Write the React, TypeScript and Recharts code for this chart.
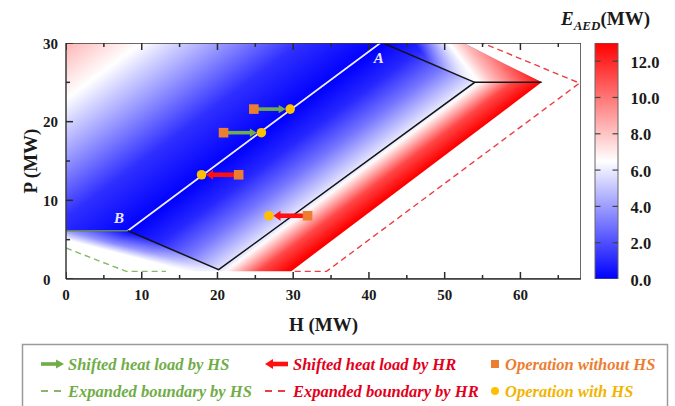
import React from 'react';
import { ComposedChart, Scatter, XAxis, YAxis, BarChart, Bar } from 'recharts';

const SERIF = '"Liberation Serif", "Times New Roman", serif';

// ---------- axis ticks ----------
const hTicks = [0, 5, 10, 15, 20, 25, 30, 35, 40, 45, 50, 55, 60, 65];
const pTicks = [0, 5, 10, 15, 20, 25, 30];
const eTicks = [0, 2, 4, 6, 8, 10, 12];
const hDomain = [0, 68];
const pDomain = [0, 30];
const eDomain = [0, 13];

// ---------- colour field (E_AED) ----------
const fieldMain = [
  { h: 0, p: 30 }, { h: 52.5, p: 30 }, { h: 62.8, p: 25 }, { h: 29.75, p: 1 }, { h: 0, p: 1 },
];
// E value profile across the field, sampled along P = 25 (iso-lines parallel to line A-B)
const mainProfileH = [-7.1, 3, 14, 24, 34.9, 41, 47, 54, 54.6, 59, 62.8];
const mainProfileE = [8.4, 6.5, 3.8, 1.2, 0, 1.0, 3.0, 6.0, 6.6, 11.2, 13];

const fieldTopRight = [
  { h: 41.85, p: 30 }, { h: 52.5, p: 30 }, { h: 62.8, p: 25 }, { h: 53.96, p: 25 },
];
const topRightIso = [{ h: 51, p: 30 }, { h: 55, p: 25 }];
const topRightProfile = [
  { h: 46, p: 30, e: 6.5, a: 0 },
  { h: 50.5, p: 30, e: 6.5, a: 1 },
  { h: 52.5, p: 30, e: 8.2, a: 1 },
  { h: 62.8, p: 25, e: 12.6, a: 1 },
];

const fieldBottom = [
  { h: 0, p: 6.14 }, { h: 8.17, p: 6.14 }, { h: 20.15, p: 1.18 }, { h: 20.15, p: 0.5 }, { h: 0, p: 0.5 },
];
const bottomIso = [{ h: 0, p: 5.5 }, { h: 10, p: 3 }];
const bottomProfile = [
  { h: 8.17, p: 6.14, a: 0 },
  { h: 0, p: 6.1, a: 0.55 },
  { h: 0, p: 5.0, a: 1 },
];

// ---------- boundaries ----------
const lineAB = [{ h: 8.17, p: 6.14 }, { h: 41.5, p: 30 }];
const blackLower = [{ h: 8.17, p: 6.14 }, { h: 20.15, p: 1.18 }, { h: 53.96, p: 25 }, { h: 62.8, p: 25 }];
const blackUpper = [{ h: 41.85, p: 30 }, { h: 53.96, p: 25 }];
const greenSolid = [{ h: 0, p: 6.14 }, { h: 8.17, p: 6.14 }];
const expandedHS = [{ h: 0, p: 3.94 }, { h: 7.95, p: 0.97 }, { h: 13.2, p: 0.97 }];
const expandedHR = [{ h: 30.2, p: 0.97 }, { h: 34.4, p: 0.97 }, { h: 67.8, p: 24.9 }, { h: 55, p: 30 }];
const frameBox = [{ h: 0, p: 0 }, { h: 68, p: 0 }, { h: 68, p: 30 }, { h: 0, p: 30 }, { h: 0, p: 0 }];

// ---------- operation points ----------
const opWithout = [
  { h: 24.8, p: 21.6 }, { h: 20.8, p: 18.6 }, { h: 22.8, p: 13.25 }, { h: 31.9, p: 8.04 },
];
const opWith = [
  { h: 29.6, p: 21.6 }, { h: 25.8, p: 18.6 }, { h: 17.9, p: 13.25 }, { h: 26.8, p: 8.04 },
];
const shiftedByHS = [0, 1];
const shiftedByHR = [2, 3];
const pointLabels = [{ h: 7.0, p: 7.8, t: 'B' }, { h: 41.3, p: 28.1, t: 'A' }];

const cbData = [{ name: 'E', v: 13 }];

// tick-mark anchors (drawn inside the frame)
const bottomMarks = hTicks.map((h) => ({ h, p: pDomain[0], side: 'bottom', major: h % 10 === 0 }));
const topMarks = hTicks.map((h) => ({ h, p: pDomain[1], side: 'top', major: h % 10 === 0 }));
const leftMarks = pTicks.map((p) => ({ h: hDomain[0], p, side: 'left', major: p % 10 === 0 }));

// ---------- helpers ----------
function eColor(e: number) {
  const c = (v: number) => Math.round(Math.max(0, Math.min(255, v)));
  if (e <= 6.5) {
    const t = e / 6.5;
    return `rgb(${c(255 * t)},${c(255 * t)},255)`;
  }
  const t = (e - 6.5) / 6.5;
  return `rgb(255,${c(255 * (1 - t))},${c(255 * (1 - t))})`;
}

type Pt = { h: number; p: number };
function makeMapper(data: Pt[], pts: { x: number; y: number }[]) {
  let i1 = -1, j1 = -1;
  for (let i = 1; i < data.length; i++) {
    if (i1 < 0 && Math.abs(data[i].h - data[0].h) > 1e-6) i1 = i;
    if (j1 < 0 && Math.abs(data[i].p - data[0].p) > 1e-6) j1 = i;
  }
  const ax = (pts[i1].x - pts[0].x) / (data[i1].h - data[0].h);
  const bx = pts[0].x - ax * data[0].h;
  const ay = (pts[j1].y - pts[0].y) / (data[j1].p - data[0].p);
  const by = pts[0].y - ay * data[0].p;
  return (h: number, p: number) => ({ x: ax * h + bx, y: ay * p + by });
}

function gradientFrame(m: (h: number, p: number) => { x: number; y: number }, iso: Pt[], refs: Pt[]) {
  const a = m(iso[0].h, iso[0].p);
  const b = m(iso[1].h, iso[1].p);
  let vx = b.x - a.x, vy = b.y - a.y;
  const L = Math.hypot(vx, vy);
  vx /= L; vy /= L;
  let nx = -vy, ny = vx;
  const S = m(refs[0].h, refs[0].p);
  const E = m(refs[refs.length - 1].h, refs[refs.length - 1].p);
  let len = (E.x - S.x) * nx + (E.y - S.y) * ny;
  if (len < 0) { nx = -nx; ny = -ny; len = -len; }
  const offs = refs.map((r) => {
    const q = m(r.h, r.p);
    return ((q.x - S.x) * nx + (q.y - S.y) * ny) / len;
  });
  return { x1: S.x, y1: S.y, x2: S.x + nx * len, y2: S.y + ny * len, offs };
}

const polyStr = (pts: { x: number; y: number }[]) => pts.map((q) => `${q.x},${q.y}`).join(' ');

const renderMainField = (lp: any) => {
  const pts = lp.points;
  if (!pts || pts.length < 3) return null;
  const m = makeMapper(fieldMain, pts);
  const refs = mainProfileH.map((h) => ({ h, p: 25 }));
  const g = gradientFrame(m, lineAB, refs);
  return (
    <g>
      <defs>
        <linearGradient id="gMain" gradientUnits="userSpaceOnUse" x1={g.x1} y1={g.y1} x2={g.x2} y2={g.y2}>
          {mainProfileE.map((e, i) => (
            <stop key={i} offset={Math.max(0, Math.min(1, g.offs[i]))} stopColor={eColor(e)} />
          ))}
        </linearGradient>
      </defs>
      <polygon points={polyStr(pts)} fill="url(#gMain)" stroke="none" />
    </g>
  );
};

const renderTopRight = (lp: any) => {
  const pts = lp.points;
  if (!pts || pts.length < 3) return null;
  const m = makeMapper(fieldTopRight, pts);
  const g = gradientFrame(m, topRightIso, topRightProfile);
  return (
    <g>
      <defs>
        <linearGradient id="gTR" gradientUnits="userSpaceOnUse" x1={g.x1} y1={g.y1} x2={g.x2} y2={g.y2}>
          {topRightProfile.map((r, i) => (
            <stop key={i} offset={Math.max(0, Math.min(1, g.offs[i]))} stopColor={eColor(r.e)} stopOpacity={r.a} />
          ))}
        </linearGradient>
      </defs>
      <polygon points={polyStr(pts)} fill="url(#gTR)" stroke="none" />
    </g>
  );
};

const renderBottom = (lp: any) => {
  const pts = lp.points;
  if (!pts || pts.length < 3) return null;
  const m = makeMapper(fieldBottom, pts);
  const g = gradientFrame(m, bottomIso, bottomProfile);
  return (
    <g>
      <defs>
        <linearGradient id="gBL" gradientUnits="userSpaceOnUse" x1={g.x1} y1={g.y1} x2={g.x2} y2={g.y2}>
          {bottomProfile.map((r, i) => (
            <stop key={i} offset={Math.max(0, Math.min(1, g.offs[i]))} stopColor="#ffffff" stopOpacity={r.a} />
          ))}
        </linearGradient>
      </defs>
      <polygon points={polyStr(pts)} fill="url(#gBL)" stroke="none" />
    </g>
  );
};

const arrowLine = (color: string, w: number, headL: number, headW: number, gap: number) => (lp: any) => {
  const pts = lp.points;
  if (!pts || pts.length < 2) return null;
  const a = pts[0], b = pts[1];
  const dx = b.x - a.x, dy = b.y - a.y;
  const L = Math.hypot(dx, dy);
  const ux = dx / L, uy = dy / L;
  const tip = { x: b.x - ux * gap, y: b.y - uy * gap };
  const base = { x: tip.x - ux * headL, y: tip.y - uy * headL };
  const px = -uy, py = ux;
  return (
    <g>
      <line x1={a.x} y1={a.y} x2={base.x + ux} y2={base.y + uy} stroke={color} strokeWidth={w} />
      <polygon
        points={`${tip.x},${tip.y} ${base.x + px * headW},${base.y + py * headW} ${base.x - px * headW},${base.y - py * headW}`}
        fill={color}
      />
    </g>
  );
};

const noShape = () => <g />;

const TICK_COLOR = '#2a2a2a';

const tickMarkShape = (s: any) => {
  const d = s.payload;
  const len = d.major ? 7 : 4;
  if (d.side === 'bottom') return <line x1={s.cx} x2={s.cx} y1={s.cy} y2={s.cy - len} stroke={TICK_COLOR} strokeWidth={1.5} />;
  if (d.side === 'top') return <line x1={s.cx} x2={s.cx} y1={s.cy} y2={s.cy + len} stroke={TICK_COLOR} strokeWidth={1.5} />;
  return <line x1={s.cx} x2={s.cx + len} y1={s.cy} y2={s.cy} stroke={TICK_COLOR} strokeWidth={1.5} />;
};

const XTick = (props: any) => {
  const { x, y, payload } = props;
  const v = payload.value;
  if (v % 10 !== 0) return <g />;
  return (
    <text x={x} y={y + 21} textAnchor="middle" fontFamily={SERIF} fontWeight="bold" fontSize={15} fill="#1a1a1a">
      {v}
    </text>
  );
};

const YTick = (props: any) => {
  const { x, y, payload } = props;
  const v = payload.value;
  if (v % 10 !== 0) return <g />;
  return (
    <text x={x - 23} y={y + 5.5} textAnchor="start" fontFamily={SERIF} fontWeight="bold" fontSize={15} fill="#1a1a1a">
      {v}
    </text>
  );
};

const CB_W = 23;
const CbTick = (props: any) => {
  const { x, y, payload } = props;
  const v = payload.value;
  return (
    <g>
      {v > 0 && <line x1={x - 5.5} x2={x} y1={y} y2={y} stroke="#444" strokeWidth={1.2} />}
      {v > 0 && <line x1={x - CB_W} x2={x - CB_W + 5.5} y1={y} y2={y} stroke="#444" strokeWidth={1.2} />}
      <text x={x + 12.5} y={y + 6.5} textAnchor="start" fontFamily={SERIF} fontWeight="bold" fontSize={16.5} fill="#1a1a1a">
        {v.toFixed(1)}
      </text>
    </g>
  );
};

const GREEN = '#70ad47';
const RED = '#ff1010';
const RED_TXT = '#e3001b';
const ORANGE = '#ed7d31';
const GOLD = '#ffc000';

const legendRow1 = ['Shifted heat load by HS', 'Shifted heat load by HR', 'Operation without HS'];
const legendRow2 = ['Expanded boundary by HS', 'Expanded boundary by HR', 'Operation with HS'];
const LFS = 16.5;

export default function App() {
  return (
    <div style={{ position: 'absolute', left: 0, top: 0, width: 675, height: 406, background: '#fff' }}>
      <div style={{ position: 'absolute', left: 0, top: 0 }}>
        <ComposedChart width={675} height={406} margin={{ top: 43, right: 94, bottom: 67, left: 6 }}>
          <XAxis
            type="number"
            dataKey="h"
            domain={hDomain}
            ticks={hTicks}
            interval={0}
            height={60}
            tickSize={0}
            tickMargin={0}
            tickLine={false}
            axisLine={{ stroke: '#3a3a3a', strokeWidth: 1.5 }}
            tick={<XTick />}
            allowDataOverflow
            label={{ value: 'H (MW)', position: 'insideBottom', offset: 8, fontFamily: SERIF, fontWeight: 'bold', fontSize: 19, fill: '#1a1a1a' }}
          />
          <YAxis
            type="number"
            dataKey="p"
            domain={pDomain}
            ticks={pTicks}
            interval={0}
            width={60}
            tickSize={0}
            tickMargin={0}
            tickLine={false}
            axisLine={{ stroke: '#3a3a3a', strokeWidth: 1.5 }}
            tick={<YTick />}
            allowDataOverflow
            label={{ value: 'P (MW)', angle: -90, position: 'insideLeft', offset: 24, fontFamily: SERIF, fontWeight: 'bold', fontSize: 19, fill: '#1a1a1a', style: { textAnchor: 'middle' } }}
          />

          <Scatter data={fieldMain} line={renderMainField} lineType="joint" shape={noShape} isAnimationActive={false} legendType="none" />
          <Scatter data={fieldTopRight} line={renderTopRight} lineType="joint" shape={noShape} isAnimationActive={false} legendType="none" />
          <Scatter data={fieldBottom} line={renderBottom} lineType="joint" shape={noShape} isAnimationActive={false} legendType="none" />

          <Scatter data={expandedHS} line={{ stroke: '#86b86a', strokeWidth: 1.4, strokeDasharray: '6 4' }} lineType="joint" shape={noShape} isAnimationActive={false} />
          <Scatter data={expandedHR} line={{ stroke: '#ee3c46', strokeWidth: 1.4, strokeDasharray: '6 4' }} lineType="joint" shape={noShape} isAnimationActive={false} />
          <Scatter data={greenSolid} line={{ stroke: '#5f8a52', strokeWidth: 1.6 }} lineType="joint" shape={noShape} isAnimationActive={false} />
          <Scatter data={lineAB} line={{ stroke: '#eeeeff', strokeWidth: 1.8 }} lineType="joint" shape={noShape} isAnimationActive={false} />
          <Scatter data={blackLower} line={{ stroke: '#141414', strokeWidth: 1.5 }} lineType="joint" shape={noShape} isAnimationActive={false} />
          <Scatter data={blackUpper} line={{ stroke: '#141414', strokeWidth: 1.5 }} lineType="joint" shape={noShape} isAnimationActive={false} />

          {shiftedByHS.map((i) => (
            <Scatter key={`hs${i}`} data={[opWithout[i], opWith[i]]} line={arrowLine(GREEN, 3.6, 7, 4.2, 4.5)} lineType="joint" shape={noShape} isAnimationActive={false} />
          ))}
          {shiftedByHR.map((i) => (
            <Scatter key={`hr${i}`} data={[opWithout[i], opWith[i]]} line={arrowLine(RED, 4.6, 7, 5, 4.5)} lineType="joint" shape={noShape} isAnimationActive={false} />
          ))}

          <Scatter
            data={opWithout}
            isAnimationActive={false}
            shape={(s: any) => <rect x={s.cx - 4.8} y={s.cy - 4.8} width={9.6} height={9.6} fill={ORANGE} />}
          />
          <Scatter
            data={opWith}
            isAnimationActive={false}
            shape={(s: any) => <circle cx={s.cx} cy={s.cy} r={4.8} fill={GOLD} />}
          />
          <Scatter
            data={pointLabels}
            isAnimationActive={false}
            shape={(s: any) => (
              <text x={s.cx} y={s.cy} textAnchor="middle" dominantBaseline="central" fontFamily={SERIF} fontStyle="italic" fontWeight="bold" fontSize={15} fill="#e8e8ff">
                {s.payload.t}
              </text>
            )}
          />
          <Scatter data={frameBox} line={{ stroke: '#3a3a3a', strokeWidth: 1.5 }} lineType="joint" shape={noShape} isAnimationActive={false} />
          <Scatter data={bottomMarks} shape={tickMarkShape} isAnimationActive={false} />
          <Scatter data={topMarks} shape={tickMarkShape} isAnimationActive={false} />
          <Scatter data={leftMarks} shape={tickMarkShape} isAnimationActive={false} />
        </ComposedChart>
      </div>

      {/* colour bar */}
      <div style={{ position: 'absolute', left: 580, top: 0 }}>
        <BarChart width={95} height={300} data={cbData} margin={{ top: 43, right: 0, bottom: 21, left: 15 }} barCategoryGap={0} barGap={0}>
          <defs>
            <linearGradient id="cbGrad" x1="0" y1="1" x2="0" y2="0">
              <stop offset="0" stopColor={eColor(0)} />
              <stop offset="0.5" stopColor={eColor(6.5)} />
              <stop offset="1" stopColor={eColor(13)} />
            </linearGradient>
          </defs>
          <XAxis dataKey="name" hide />
          <YAxis
            orientation="right"
            type="number"
            width={57}
            domain={eDomain}
            ticks={eTicks}
            interval={0}
            axisLine={false}
            tickLine={false}
            tickSize={0}
            tickMargin={0}
            tick={<CbTick />}
            allowDataOverflow
          />
          <Bar dataKey="v" fill="url(#cbGrad)" stroke="#666" strokeWidth={1} isAnimationActive={false} />
        </BarChart>
      </div>

      {/* colour bar title */}
      <svg style={{ position: 'absolute', left: 540, top: 0 }} width={135} height={40}>
        <text x={21} y={25} fontFamily={SERIF} fontWeight="bold" fontSize={19} fill="#1a1a1a">
          <tspan fontStyle="italic">E</tspan>
          <tspan fontStyle="italic" fontSize={13} dy={5}>AED</tspan>
          <tspan dy={-5}>(MW)</tspan>
        </text>
      </svg>

      {/* legend */}
      <svg style={{ position: 'absolute', left: 0, top: 330 }} width={675} height={76}>
        <rect x={22.5} y={14.5} width={645} height={70} fill="#fff" stroke="#9a9a9a" strokeWidth={1.5} />
        {/* row 1 */}
        <line x1={41} y1={34} x2={57} y2={34} stroke={GREEN} strokeWidth={3.6} />
        <polygon points="64,34 56,29.5 56,38.5" fill={GREEN} />
        <text x={68} y={39.5} fontFamily={SERIF} fontStyle="italic" fontWeight="bold" fontSize={LFS} fill={GREEN}>{legendRow1[0]}</text>
        <polygon points="265,34 273,29 273,39" fill={RED} />
        <line x1={272} y1={34} x2={288} y2={34} stroke={RED} strokeWidth={4.6} />
        <text x={293} y={39.5} fontFamily={SERIF} fontStyle="italic" fontWeight="bold" fontSize={LFS} fill={RED_TXT}>{legendRow1[1]}</text>
        <rect x={491} y={30} width={8} height={8} fill={ORANGE} />
        <text x={505} y={39.5} fontFamily={SERIF} fontStyle="italic" fontWeight="bold" fontSize={LFS} fill={ORANGE}>{legendRow1[2]}</text>
        {/* row 2 */}
        <line x1={41} y1={61} x2={63} y2={61} stroke="#86b86a" strokeWidth={2} strokeDasharray="7 6" />
        <text x={68} y={66.5} fontFamily={SERIF} fontStyle="italic" fontWeight="bold" fontSize={LFS} fill={GREEN}>{legendRow2[0]}</text>
        <line x1={265} y1={61} x2={288} y2={61} stroke="#ee3c46" strokeWidth={2} strokeDasharray="7 6" />
        <text x={293} y={66.5} fontFamily={SERIF} fontStyle="italic" fontWeight="bold" fontSize={LFS} fill={RED_TXT}>{legendRow2[1]}</text>
        <circle cx={495} cy={61} r={4} fill={GOLD} />
        <text x={505} y={66.5} fontFamily={SERIF} fontStyle="italic" fontWeight="bold" fontSize={LFS} fill="#f2b400">{legendRow2[2]}</text>
      </svg>
    </div>
  );
}
